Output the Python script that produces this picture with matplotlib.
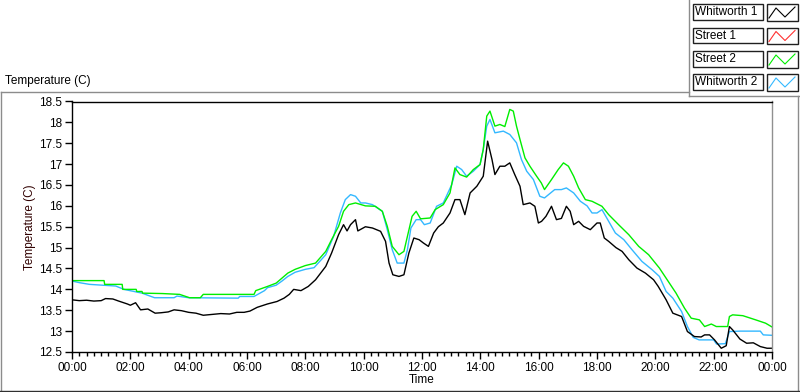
import matplotlib
matplotlib.use("Agg")
import matplotlib.pyplot as plt
from matplotlib.lines import Line2D
from matplotlib.patches import Rectangle
from matplotlib.ticker import MultipleLocator, FuncFormatter

plt.rcParams['font.family'] = ['Liberation Sans', 'DejaVu Sans']

W, H = 800, 392

# Whitworth 1 (black)
t_whit1 = [0.0, 0.25, 0.5, 0.75, 1.0, 1.15, 1.4, 1.6, 1.9, 2.0, 2.18, 2.35, 2.6, 2.85,
           3.05, 3.3, 3.5, 3.75, 4.0, 4.25, 4.5, 4.8, 5.1, 5.4, 5.65, 5.9, 6.1, 6.35,
           6.7, 7.03, 7.27, 7.45, 7.6, 7.85, 8.1, 8.35, 8.7, 8.9, 9.14, 9.31, 9.43,
           9.55, 9.72, 9.8, 10.06, 10.3, 10.58, 10.75, 10.87, 11.0, 11.21, 11.38,
           11.55, 11.72, 11.9, 12.05, 12.22, 12.4, 12.56, 12.73, 12.96, 13.13, 13.3,
           13.47, 13.65, 13.88, 14.1, 14.25, 14.4, 14.5, 14.67, 14.84, 15.01, 15.18,
           15.36, 15.47, 15.7, 15.87, 15.99, 16.1, 16.25, 16.44, 16.61, 16.78, 16.95,
           17.08, 17.2, 17.37, 17.54, 17.77, 18.0, 18.11, 18.25, 18.4, 18.65, 18.86,
           19.09, 19.37, 19.66, 19.94, 20.1, 20.37, 20.6, 20.9, 21.1, 21.34, 21.57,
           21.69, 21.86, 22.03, 22.26, 22.43, 22.54, 22.65, 22.9, 23.13, 23.36, 23.6,
           23.83, 24.0]
v_whit1 = [13.75, 13.73, 13.74, 13.72, 13.73, 13.78, 13.77, 13.72, 13.65, 13.62, 13.68,
           13.51, 13.53, 13.43, 13.44, 13.46, 13.51, 13.49, 13.45, 13.43, 13.38, 13.40,
           13.42, 13.41, 13.45, 13.45, 13.48, 13.57, 13.65, 13.71, 13.79, 13.88, 14.0,
           13.97, 14.07, 14.23, 14.55, 14.87, 15.31, 15.55, 15.40, 15.55, 15.67, 15.40,
           15.50, 15.47, 15.39, 15.15, 14.63, 14.35, 14.31, 14.35, 14.87, 15.23, 15.19,
           15.11, 15.03, 15.35, 15.50, 15.59, 15.83, 16.15, 16.15, 15.79, 16.31, 16.47,
           16.71, 17.55, 17.11, 16.75, 16.95, 16.95, 17.03, 16.75, 16.47, 16.03, 16.07,
           15.99, 15.59, 15.63, 15.75, 15.99, 15.67, 15.70, 15.99, 15.87, 15.55, 15.63,
           15.51, 15.43, 15.59, 15.59, 15.23, 15.15, 15.0, 14.91, 14.71, 14.51, 14.39,
           14.23, 14.07, 13.75, 13.43, 13.35, 12.99, 12.87, 12.86, 12.91, 12.91, 12.79,
           12.59, 12.65, 13.11, 13.03, 12.81, 12.71, 12.72, 12.63, 12.59, 12.59]

# Street 2 (green)
t_street2 = [0.0, 1.1, 1.12, 1.72, 1.74, 2.2, 2.22, 2.4, 2.42, 3.1, 3.69, 4.03, 4.4, 4.5,
             6.24, 6.3, 6.7, 7.0, 7.2, 7.4, 7.65, 8.0, 8.35, 8.7, 8.9, 9.14, 9.31, 9.49,
             9.72, 10.06, 10.4, 10.64, 10.81, 10.98, 11.21, 11.38, 11.5, 11.66, 11.8,
             11.95, 12.28, 12.45, 12.73, 12.96, 13.13, 13.3, 13.53, 13.76, 13.99, 14.1,
             14.22, 14.33, 14.5, 14.67, 14.84, 15.01, 15.13, 15.24, 15.36, 15.53, 15.7,
             15.93, 16.09, 16.2, 16.44, 16.67, 16.85, 17.02, 17.2, 17.37, 17.6, 17.83,
             18.17, 18.4, 18.74, 19.09, 19.43, 19.77, 20.14, 20.71, 21.0, 21.23, 21.51,
             21.69, 21.92, 22.09, 22.48, 22.54, 22.65, 23.0, 23.44, 23.78, 24.0]
v_street2 = [14.21, 14.21, 14.12, 14.12, 14.0, 14.0, 13.95, 13.95, 13.91, 13.90, 13.88,
             13.80, 13.80, 13.88, 13.88, 13.97, 14.07, 14.15, 14.27, 14.39, 14.48, 14.57,
             14.63, 14.91, 15.19, 15.51, 15.87, 16.03, 16.07, 16.0, 15.99, 15.87, 15.51,
             15.03, 14.83, 14.91, 15.27, 15.75, 15.87, 15.69, 15.71, 15.91, 16.03, 16.31,
             16.91, 16.75, 16.69, 16.87, 16.99, 17.35, 18.15, 18.27, 17.91, 17.95, 17.90,
             18.31, 18.27, 17.91, 17.59, 17.15, 16.95, 16.71, 16.55, 16.39, 16.63, 16.87,
             17.03, 16.95, 16.71, 16.43, 16.15, 16.11, 15.99, 15.79, 15.55, 15.31, 15.03,
             14.83, 14.51, 13.91, 13.55, 13.31, 13.27, 13.11, 13.17, 13.11, 13.11, 13.35,
             13.39, 13.37, 13.27, 13.19, 13.10]

# Whitworth 2 (light blue)
t_whit2 = [0.0, 0.26, 0.6, 1.5, 1.78, 2.4, 2.83, 3.5, 3.6, 4.0, 5.7, 5.75, 6.24, 6.6, 6.7,
           7.0, 7.2, 7.4, 7.65, 8.0, 8.3, 8.7, 8.97, 9.2, 9.37, 9.55, 9.72, 9.9, 10.06,
           10.3, 10.64, 10.81, 10.98, 11.15, 11.38, 11.5, 11.62, 11.8, 11.95, 12.08,
           12.28, 12.5, 12.73, 13.02, 13.19, 13.36, 13.53, 13.76, 13.99, 14.1, 14.22,
           14.33, 14.5, 14.79, 15.01, 15.24, 15.41, 15.59, 15.82, 16.04, 16.2, 16.55,
           16.78, 16.95, 17.2, 17.43, 17.66, 17.83, 18.0, 18.17, 18.4, 18.63, 18.92,
           19.2, 19.54, 19.89, 20.14, 20.37, 20.6, 20.9, 21.1, 21.3, 21.5, 22.0, 22.1,
           22.4, 22.54, 22.9, 23.6, 23.7, 24.0]
v_whit2 = [14.20, 14.16, 14.12, 14.08, 14.0, 13.91, 13.80, 13.80, 13.84, 13.80, 13.79,
           13.83, 13.83, 13.97, 14.04, 14.10, 14.20, 14.31, 14.41, 14.48, 14.52, 14.83,
           15.27, 15.83, 16.15, 16.27, 16.23, 16.07, 16.07, 16.03, 15.87, 15.43, 14.95,
           14.63, 14.63, 14.95, 15.47, 15.67, 15.67, 15.55, 15.59, 15.99, 16.07, 16.51,
           16.95, 16.87, 16.71, 16.83, 16.99, 17.35, 17.91, 18.07, 17.75, 17.79, 17.71,
           17.51, 17.11, 16.83, 16.63, 16.23, 16.19, 16.39, 16.39, 16.43, 16.31, 16.11,
           16.0, 15.83, 15.83, 15.91, 15.63, 15.35, 15.19, 14.95, 14.67, 14.47, 14.31,
           13.95, 13.79, 13.47, 13.11, 12.85, 12.79, 12.79, 12.69, 12.70, 12.99, 13.0,
           13.0, 12.91, 12.90]

legend_names = ['Whitworth 1', 'Street 1', 'Street 2', 'Whitworth 2']
legend_colors = ['#000000', '#ff3030', '#00ee00', '#33b8ff']


def fx(px):
    return px / W


def fy(py):
    return 1 - py / H


fig = plt.figure(figsize=(8.0, 3.92), dpi=100)
fig.patch.set_facecolor('white')

# outer frame lines (LabVIEW style panel)
gray = '#8c8c8c'
for (x0, y0, x1, y1, c) in [(0.5, 91.5, 689, 91.5, gray), (689, 0, 689, 95.5, gray),
                            (689, 95.5, 800, 95.5, gray), (0.5, 91.5, 0.5, 392, gray),
                            (797.5, 95.5, 797.5, 392, gray), (0, 391, 800, 391, '#303030')]:
    fig.add_artist(Line2D([fx(x0), fx(x1)], [fy(y0), fy(y1)], color=c, lw=1.0,
                          transform=fig.transFigure))

fig.text(fx(5), fy(81), 'Temperature (C)', fontsize=8.5, ha='left', va='center')

ax = fig.add_axes([fx(72), fy(352), fx(772 - 72), (352 - 101.5) / H])
ax.plot(t_whit2, v_whit2, color=legend_colors[3], lw=1.0)
ax.plot(t_street2, v_street2, color=legend_colors[2], lw=1.0)
ax.plot(t_whit1, v_whit1, color=legend_colors[0], lw=1.0)

ax.set_xlim(0, 24)
ax.set_ylim(12.5, 18.5)
ax.xaxis.set_major_locator(MultipleLocator(2))
ax.xaxis.set_minor_locator(MultipleLocator(0.25))
ax.yaxis.set_major_locator(MultipleLocator(0.5))
ax.xaxis.set_major_formatter(FuncFormatter(lambda v, p: '%02d:00' % (int(round(v)) % 24)))
ax.yaxis.set_major_formatter(FuncFormatter(lambda v, p: ('%g' % v)))
ax.tick_params(axis='both', which='major', direction='out', length=5, width=1,
               labelsize=8.5, colors='black', pad=2)
ax.tick_params(axis='x', which='minor', direction='out', length=3, width=1)
ax.tick_params(axis='y', which='minor', left=False)
for s in ['left', 'bottom', 'top']:
    ax.spines[s].set_color('black')
    ax.spines[s].set_linewidth(1.0)
ax.spines['right'].set_color('#909090')
ax.spines['right'].set_linewidth(1.0)

ax.set_xlabel('Time', fontsize=8.5, labelpad=0)
ax.set_ylabel('Temperature (C)', fontsize=8.5, labelpad=2, color='#300000')

# legend: name boxes and plot icons
row_top = [4, 27.5, 51, 74]
for i, name in enumerate(legend_names):
    top = row_top[i]
    hgt = 15.5
    fig.add_artist(Rectangle((fx(692.5), fy(top + hgt)), fx(70), hgt / H, facecolor='white',
                             edgecolor='#202020', lw=1.0, transform=fig.transFigure))
    fig.text(fx(695), fy(top + hgt / 2 + 0.5), name, fontsize=8.5, ha='left', va='center')
    fig.add_artist(Rectangle((fx(766.5), fy(top + hgt + 1)), fx(31), (hgt + 1) / H,
                             facecolor='white', edgecolor='#202020', lw=1.0,
                             transform=fig.transFigure))
    xs = [769, 776, 785, 795]
    ys = [top + 14, top + 4, top + 13, top + 3]
    fig.add_artist(Line2D([fx(x) for x in xs], [fy(y) for y in ys], color=legend_colors[i],
                          lw=0.8, transform=fig.transFigure))

fig.savefig('out.png', dpi=100, facecolor='white')
